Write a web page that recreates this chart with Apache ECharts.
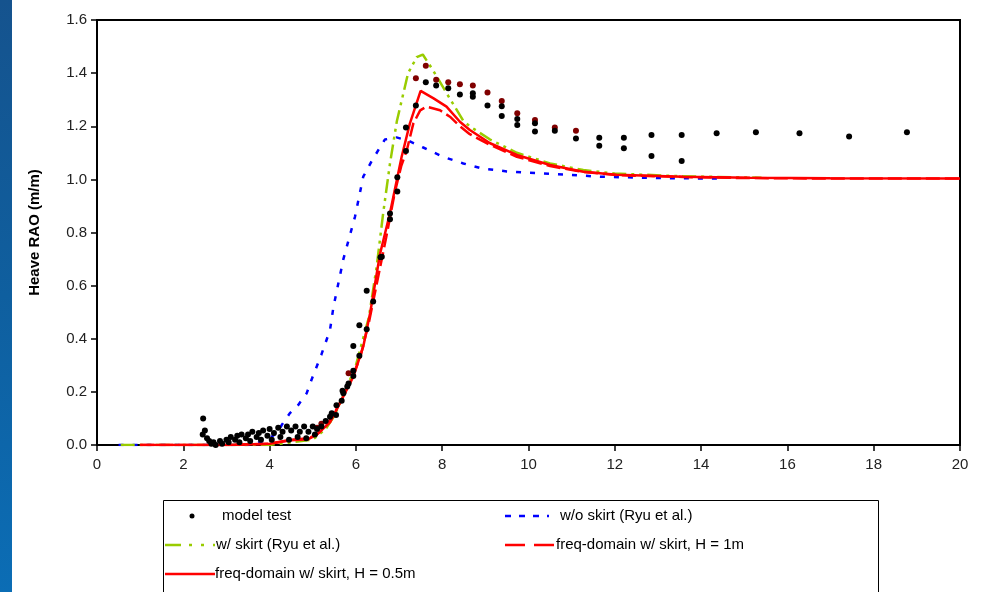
<!DOCTYPE html>
<html>
<head>
<meta charset="utf-8">
<script src="https://cdn.jsdelivr.net/npm/echarts@6/dist/echarts.min.js"></script>
<style>
html,body{margin:0;padding:0;background:#fff;}
#chart{width:986px;height:592px;}
</style>
</head>
<body>
<div id="chart"></div>
<script>
// ---- data ----
const xTicks = [0, 2, 4, 6, 8, 10, 12, 14, 16, 18, 20];
const yTicks = [0.0, 0.2, 0.4, 0.6, 0.8, 1.0, 1.2, 1.4, 1.6];

const modelTest = [
  [2.46,0.10],[2.50,0.055],[2.45,0.04],[2.55,0.025],[2.60,0.015],[2.65,0.005],[2.75,0.0],[2.70,0.01],
  [2.85,0.015],[2.90,0.005],[3.00,0.02],[3.05,0.01],[3.10,0.03],[3.20,0.02],[3.25,0.035],[3.30,0.01],
  [3.35,0.04],[3.45,0.025],[3.50,0.04],[3.55,0.015],[3.60,0.05],[3.70,0.03],[3.75,0.045],[3.80,0.02],
  [3.85,0.055],[3.95,0.035],[4.00,0.06],[4.05,0.02],[4.10,0.045],[4.20,0.065],[4.25,0.03],[4.30,0.05],
  [4.40,0.07],[4.45,0.02],[4.50,0.055],[4.60,0.07],[4.65,0.03],[4.70,0.05],[4.80,0.07],[4.85,0.025],
  [4.90,0.05],[5.00,0.07],[5.05,0.04],[5.10,0.06],[5.20,0.07],
  [5.30,0.09],[5.40,0.106],[5.44,0.12],[5.54,0.113],[5.55,0.15],[5.67,0.167],[5.69,0.204],[5.71,0.195],
  [5.80,0.22],[5.83,0.232],[5.94,0.26],[5.94,0.28],[6.08,0.336],[5.94,0.373],[6.08,0.451],[6.25,0.436],
  [6.40,0.54],[6.25,0.581],[6.57,0.707],[6.60,0.709],[6.79,0.85],[6.79,0.872],[6.96,0.954],[6.96,1.008],
  [7.16,1.107],[7.16,1.195],[7.39,1.278],[7.62,1.366],[7.86,1.353],[8.14,1.343],[8.41,1.32],
  [8.71,1.324],[8.71,1.311],[9.05,1.278],[9.38,1.275],[9.38,1.239],[9.74,1.227],[9.74,1.205],
  [10.15,1.211],[10.15,1.18],[10.61,1.183],[11.10,1.154],[11.64,1.157],[11.64,1.127],[12.21,1.157],
  [12.21,1.117],[12.85,1.167],[12.85,1.088],[13.55,1.167],[13.55,1.069],[14.36,1.174],[15.27,1.177],
  [16.28,1.174],[17.43,1.161],[18.77,1.177]
];

const modelTestRun2 = [
  [5.10,0.065],[5.20,0.08],[5.83,0.27],
  [7.39,1.381],[7.62,1.428],[7.86,1.375],[8.14,1.366],[8.41,1.358],[8.71,1.353],[9.05,1.327],
  [9.38,1.295],[9.74,1.249],[10.15,1.224],[10.61,1.195],[11.10,1.183]
];

const woSkirtRyu = [
  [0.5,0],[1,0],[2,0],[3,0],[3.6,0],[4.0,0.025],[4.2,0.05],[4.28,0.075],[4.47,0.12],[4.66,0.15],
  [4.86,0.195],[4.97,0.245],[5.2,0.34],[5.4,0.433],[5.48,0.52],[5.71,0.70],[5.98,0.86],[6.17,1.01],
  [6.37,1.07],[6.67,1.15],[6.94,1.158],[7.21,1.146],[7.56,1.12],[8.02,1.085],[8.49,1.06],[8.95,1.04],
  [9.5,1.03],[10.0,1.025],[10.96,1.017],[11.66,1.01],[12.97,1.005],[14.4,1.003]
];

const wSkirtRyu = [
  [0.55,0],[1,0],[2,0],[3,0],[4,0],[4.5,0.01],[5.0,0.02],[5.3,0.06],[5.5,0.11],[5.8,0.22],[6.0,0.30],
  [6.3,0.48],[6.48,0.67],[6.63,0.87],[6.79,1.06],[6.95,1.22],[7.21,1.40],[7.41,1.46],[7.55,1.47],
  [7.79,1.41],[8.1,1.325],[8.49,1.22],[8.64,1.20],[9.11,1.15],[9.73,1.10],[10.5,1.06],[11.27,1.035],
  [12.0,1.022],[13.5,1.012],[15.4,1.006]
];

const freqH1 = [
  [1,0],[2,0],[3,0],[4,0.005],[4.5,0.02],[4.9,0.025],[5.1,0.04],[5.3,0.07],[5.5,0.12],[5.7,0.18],
  [5.9,0.25],[6.1,0.33],[6.3,0.46],[6.5,0.62],[6.7,0.78],[6.9,0.95],[7.05,1.05],[7.18,1.11],[7.33,1.21],
  [7.49,1.26],[7.64,1.274],[7.95,1.26],[8.18,1.236],[8.41,1.20],[8.64,1.17],[9.11,1.13],[9.73,1.085],
  [10.5,1.05],[11.27,1.028],[12.04,1.016],[13.58,1.009],[15,1.005],[17,1.003],[20,1.003]
];

const freqH05 = [
  [1,0],[2,0],[3,0],[4,0.005],[4.5,0.018],[4.9,0.022],[5.1,0.04],[5.4,0.085],[5.7,0.18],[5.94,0.257],
  [6.17,0.37],[6.33,0.497],[6.56,0.72],[6.79,0.873],[7.06,1.085],[7.25,1.21],[7.5,1.333],[7.8,1.305],
  [8.1,1.274],[8.41,1.217],[8.64,1.186],[9.11,1.136],[9.73,1.092],[10.5,1.054],[11.27,1.029],
  [12.04,1.017],[13.58,1.01],[15.13,1.006],[17,1.004],[20,1.003]
];

const legendNames = [
  'model test',
  'w/o skirt (Ryu et al.)',
  'w/ skirt (Ryu et al.)',
  'freq-domain w/ skirt, H = 1m',
  'freq-domain w/ skirt, H = 0.5m'
];

// ---- chart ----
const FONT = 'Arial, "Liberation Sans", sans-serif';
const chart = echarts.init(document.getElementById('chart'), null, {renderer: 'canvas'});

const lineSeries = (name, data, color, dash, z) => ({
  name, type: 'line', data, showSymbol: false, symbol: 'none', smooth: false,
  lineStyle: {color, width: 2.5, type: dash}, z, animation: false
});

function legendItems() {
  const items = [];
  items.push({type:'rect', shape:{x:163.5, y:500.5, width:715, height:92},
    style:{fill:'#fff', stroke:'#000', lineWidth:1}, z:10});
  const rows = [516, 545, 574];
  items.push({type:'circle', shape:{cx:192, cy:rows[0], r:2.5}, style:{fill:'#000'}, z:11});
  items.push({type:'text', x:222, y:rows[0], style:{text:legendNames[0], font:'15px '+FONT, fill:'#000', textVerticalAlign:'middle'}, z:11});
  items.push({type:'line', shape:{x1:505, y1:rows[0], x2:549, y2:rows[0]}, style:{stroke:'#0000ff', lineWidth:2.5, lineDash:[6,8]}, z:11});
  items.push({type:'text', x:560, y:rows[0], style:{text:legendNames[1], font:'15px '+FONT, fill:'#000', textVerticalAlign:'middle'}, z:11});
  items.push({type:'line', shape:{x1:165, y1:rows[1], x2:215, y2:rows[1]}, style:{stroke:'#99cc00', lineWidth:2.5, lineDash:[16,8,3,9,3,9]}, z:11});
  items.push({type:'text', x:216, y:rows[1], style:{text:legendNames[2], font:'15px '+FONT, fill:'#000', textVerticalAlign:'middle'}, z:11});
  items.push({type:'line', shape:{x1:505, y1:rows[1], x2:556, y2:rows[1]}, style:{stroke:'#ff0000', lineWidth:2.5, lineDash:[20,9]}, z:11});
  items.push({type:'text', x:556, y:rows[1], style:{text:legendNames[3], font:'15px '+FONT, fill:'#000', textVerticalAlign:'middle'}, z:11});
  items.push({type:'line', shape:{x1:165, y1:rows[2], x2:215, y2:rows[2]}, style:{stroke:'#ff0000', lineWidth:2.5}, z:11});
  items.push({type:'text', x:215, y:rows[2], style:{text:legendNames[4], font:'15px '+FONT, fill:'#000', textVerticalAlign:'middle'}, z:11});
  return items;
}

const option = {
  animation: false,
  backgroundColor: '#ffffff',
  textStyle: {fontFamily: FONT},
  grid: {left: 97, right: 26, top: 20, bottom: 147, show: true, borderColor: '#000', borderWidth: 2, backgroundColor: 'transparent'},
  xAxis: {
    type: 'value', min: xTicks[0], max: xTicks[xTicks.length - 1], interval: 2,
    axisLine: {show: true, lineStyle: {color: '#000', width: 2}},
    axisTick: {show: true, inside: false, length: 6, lineStyle: {color: '#000', width: 1.5}},
    axisLabel: {fontSize: 15, color: '#222', margin: 12, fontFamily: FONT},
    splitLine: {show: false}
  },
  yAxis: {
    type: 'value', min: yTicks[0], max: yTicks[yTicks.length - 1], interval: 0.2,
    name: 'Heave RAO (m/m)', nameLocation: 'middle', nameGap: 55,
    nameTextStyle: {fontSize: 15, fontWeight: 'bold', color: '#000', fontFamily: FONT},
    axisLine: {show: true, lineStyle: {color: '#000', width: 2}},
    axisTick: {show: true, inside: false, length: 6, lineStyle: {color: '#000', width: 1.5}},
    axisLabel: {fontSize: 15, color: '#222', margin: 10, fontFamily: FONT, formatter: v => v.toFixed(1)},
    splitLine: {show: false}
  },
  graphic: [
    {type:'rect', shape:{x:0, y:0, width:12, height:592}, z:0,
      style:{fill:new echarts.graphic.LinearGradient(0,0,0,1,[
        {offset:0, color:'#15538e'},{offset:0.5, color:'#0f5f9f'},{offset:1, color:'#0b6db5'}])}},
    ...legendItems()
  ],
  series: [
    lineSeries(legendNames[1], woSkirtRyu, '#0000ff', [5, 9], 2),
    lineSeries(legendNames[2], wSkirtRyu, '#99cc00', [14, 5, 3, 5, 3, 5], 3),
    lineSeries(legendNames[3], freqH1, '#ff0000', [14, 5], 4),
    lineSeries(legendNames[4], freqH05, '#ff0000', 'solid', 5),
    {name: 'model test (run 2)', type: 'scatter', data: modelTestRun2, symbol: 'circle', symbolSize: 6,
      itemStyle: {color: '#800000', opacity: 1}, z: 6, animation: false},
    {name: legendNames[0], type: 'scatter', data: modelTest, symbol: 'circle', symbolSize: 6,
      itemStyle: {color: '#000000', opacity: 1}, z: 7, animation: false}
  ]
};
chart.setOption(option);
</script>
</body>
</html>
